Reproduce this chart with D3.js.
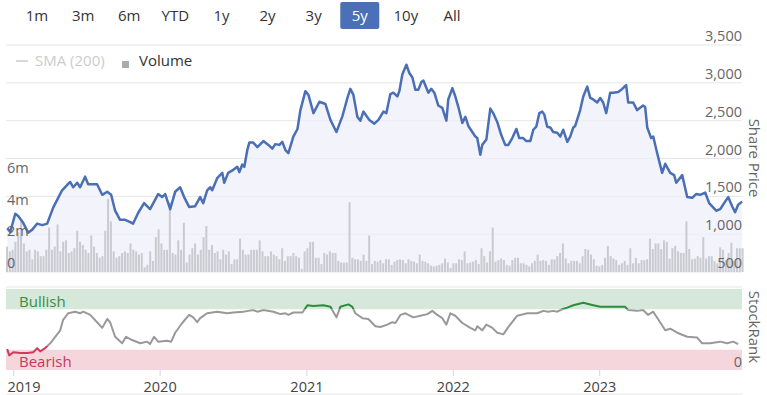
<!DOCTYPE html>
<html>
<head>
<meta charset="utf-8">
<script src="https://cdn.jsdelivr.net/npm/d3@7"></script>
<style>
    body { margin: 0; background: #fff; }
    svg text { font-family: "Open Sans", sans-serif; }
</style>
</head>
<body>
<svg id="svg"></svg>
<script>
const width = 767;
const height = 395;

// range selector buttons along the top
const rangeButtons = ["1m", "3m", "6m", "YTD", "1y", "2y", "3y", "5y", "10y", "All"];
const activeRange = "5y";

// share price, [decimal year, price]
const sharePrice = [
    [2018.959,1080],[2018.980,1030],[2019.014,1270],[2019.034,1240],[2019.068,1150],[2019.102,1020],[2019.130,1060],[2019.164,1140],
    [2019.198,1120],[2019.232,1140],[2019.273,1350],[2019.307,1480],[2019.334,1580],[2019.369,1650],[2019.389,1690],[2019.410,1620],
    [2019.437,1680],[2019.457,1620],[2019.491,1760],[2019.512,1660],[2019.573,1660],[2019.608,1520],[2019.642,1560],[2019.669,1520],
    [2019.696,1310],[2019.730,1190],[2019.765,1190],[2019.799,1160],[2019.819,1140],[2019.853,1280],[2019.894,1410],[2019.935,1330],
    [2019.990,1530],[2020.017,1490],[2020.038,1530],[2020.072,1330],[2020.106,1560],[2020.140,1620],[2020.167,1490],[2020.201,1360],
    [2020.242,1370],[2020.276,1490],[2020.297,1410],[2020.324,1580],[2020.345,1620],[2020.358,1580],[2020.392,1740],[2020.427,1810],
    [2020.440,1680],[2020.467,1810],[2020.502,1850],[2020.529,1890],[2020.543,1820],[2020.563,1920],[2020.577,1890],[2020.597,2110],
    [2020.611,2210],[2020.638,2210],[2020.666,2150],[2020.707,2230],[2020.741,2180],[2020.768,2130],[2020.788,2190],[2020.816,2180],
    [2020.836,2220],[2020.857,2110],[2020.877,2070],[2020.911,2290],[2020.939,2390],[2020.959,2640],[2020.993,2890],[2021.014,2840],
    [2021.048,2600],[2021.089,2750],[2021.130,2720],[2021.164,2510],[2021.205,2350],[2021.246,2560],[2021.280,2800],[2021.300,2920],
    [2021.321,2840],[2021.348,2550],[2021.369,2500],[2021.389,2620],[2021.430,2510],[2021.464,2460],[2021.492,2510],[2021.526,2620],
    [2021.546,2600],[2021.573,2850],[2021.594,2870],[2021.621,2820],[2021.635,2890],[2021.655,3110],[2021.683,3240],[2021.703,3130],
    [2021.724,3070],[2021.744,2910],[2021.765,2910],[2021.785,3010],[2021.799,3030],[2021.833,2870],[2021.853,2920],[2021.874,2870],
    [2021.901,2700],[2021.928,2670],[2021.956,2500],[2021.969,2780],[2021.997,2930],[2022.017,2820],[2022.038,2680],[2022.065,2470],
    [2022.086,2550],[2022.106,2430],[2022.133,2350],[2022.154,2290],[2022.167,2270],[2022.188,2050],[2022.201,2180],[2022.229,2250],
    [2022.256,2660],[2022.276,2600],[2022.304,2480],[2022.331,2310],[2022.358,2180],[2022.379,2180],[2022.406,2270],[2022.434,2390],
    [2022.454,2270],[2022.481,2270],[2022.502,2230],[2022.529,2230],[2022.550,2380],[2022.570,2420],[2022.591,2600],[2022.611,2620],
    [2022.625,2580],[2022.645,2420],[2022.666,2410],[2022.686,2350],[2022.713,2340],[2022.734,2290],[2022.754,2380],[2022.782,2220],
    [2022.802,2290],[2022.823,2410],[2022.836,2430],[2022.870,2640],[2022.891,2820],[2022.918,2950],[2022.939,2800],[2022.959,2780],
    [2022.986,2740],[2023.007,2800],[2023.027,2740],[2023.048,2600],[2023.075,2870],[2023.096,2870],[2023.130,2880],[2023.157,2920],
    [2023.184,2970],[2023.198,2740],[2023.232,2740],[2023.259,2640],[2023.300,2700],[2023.314,2680],[2023.328,2410],[2023.355,2270],
    [2023.369,2290],[2023.396,2070],[2023.430,1810],[2023.451,1930],[2023.485,1810],[2023.512,1780],[2023.526,1680],[2023.567,1780],
    [2023.601,1490],[2023.635,1480],[2023.662,1530],[2023.689,1520],[2023.724,1550],[2023.751,1410],[2023.799,1310],[2023.826,1330],
    [2023.853,1410],[2023.881,1490],[2023.908,1370],[2023.928,1290],[2023.949,1390],[2023.976,1430]
];

// weekly volume in millions, first week starting 14 Dec 2018
const volumeStart = "2018-12-14";
const weeklyVolume = [
    1.6,1.3,1.4,1.9,2.5,3.2,1.8,1.3,1.4,0.8,1.4,1.3,1.0,1.0,1.4,2.8,1.4,1.6,3.0,1.3,1.9,2.0,1.2,1.3,1.5,2.6,1.9,1.7,1.4,1.2,
    2.3,1.6,1.2,0.9,1.0,2.6,4.6,3.2,1.3,0.9,1.0,
    1.2,1.3,1.2,1.8,1.4,1.3,1.1,1.2,0.3,0.45,1.3,0.7,2.2,2.7,1.8,1.4,1.4,4.4,1.2,1.1,2.0,1.4,3.1,0.6,1.1,1.5,1.8,1.1,1.4,2.2,
    2.9,1.4,1.7,1.2,1.3,0.8,1.4,1.1,1.3,0.5,0.8,0.8,2.1,1.4,1.1,
    1.1,1.4,1.4,1.4,2.0,1.3,1.0,1.0,1.3,1.1,1.0,0.8,1.5,0.7,1.0,1.0,1.2,1.0,0.9,0.2,1.3,1.5,1.9,1.9,0.9,0.9,0.5,1.2,1.1,1.3,
    1.2,1.2,0.7,0.6,0.6,0.6,4.4,0.9,0.8,0.8,0.7,1.1,0.7,2.3,0.5,
    0.7,0.65,0.75,0.55,0.8,0.8,0.45,0.65,0.75,0.8,0.75,0.55,0.8,0.7,0.65,0.55,1.1,0.7,0.65,0.55,0.4,0.35,0.4,0.45,0.55,0.85,
    0.6,0.25,0.55,0.55,0.8,0.75,1.3,0.55,0.6,0.65,0.75,0.5,1.5,1.0,0.6,1.3,2.8,0.65,0.75,0.85,
    0.75,0.45,0.4,0.75,0.9,0.9,0.55,0.55,0.45,0.35,0.55,0.7,1.1,0.7,0.75,0.7,0.45,0.8,0.8,1.0,1.2,1.8,0.85,0.55,0.7,0.7,0.7,
    0.55,1.0,1.45,1.4,1.1,0.8,0.4,0.35,0.45,0.9,1.65,1.0,0.85,0.75,0.45,0.55,0.7,0.45,1.5,
    0.55,0.9,0.55,0.75,0.75,0.8,2.1,1.45,1.8,1.8,1.45,2.0,1.9,0.85,1.5,1.65,1.3,1.2,1.2,3.2,1.45,0.8,0.85,1.0,0.9,2.2,0.85,
    1.0,1.0,0.7,0.55,1.55,1.4,0.75,1.2,1.85,0.7,1.5,1.5,1.5
];

// StockRank score 0-100, [decimal year, rank]
const stockRank = [
    [2018.959,26],[2018.973,18],[2019.000,22],[2019.048,21],[2019.096,21],[2019.137,22],[2019.164,27],[2019.184,23],[2019.218,27],
    [2019.253,33],[2019.287,41],[2019.321,49],[2019.341,62],[2019.375,70],[2019.423,72],[2019.457,70],[2019.478,72],[2019.526,68],
    [2019.573,59],[2019.608,52],[2019.642,63],[2019.662,59],[2019.696,41],[2019.744,33],[2019.771,41],[2019.812,37],[2019.867,33],
    [2019.915,35],[2019.935,32],[2019.962,41],[2019.990,35],[2020.051,36],[2020.079,35],[2020.106,46],[2020.154,58],[2020.201,68],
    [2020.229,65],[2020.256,59],[2020.276,64],[2020.324,70],[2020.392,72],[2020.461,70],[2020.502,71],[2020.570,72],[2020.604,73],
    [2020.638,74],[2020.666,72],[2020.707,74],[2020.775,72],[2020.823,69],[2020.857,70],[2020.877,68],[2020.911,71],[2020.973,71],
    [2021.007,80],[2021.048,79],[2021.116,80],[2021.164,78],[2021.205,65],[2021.232,78],[2021.287,81],[2021.314,78],[2021.334,70],
    [2021.382,64],[2021.423,63],[2021.471,54],[2021.505,53],[2021.553,56],[2021.587,59],[2021.608,58],[2021.642,68],[2021.676,70],
    [2021.730,65],[2021.778,67],[2021.826,69],[2021.860,73],[2021.894,68],[2021.928,64],[2021.956,56],[2021.983,70],[2022.017,67],
    [2022.065,58],[2022.119,52],[2022.154,49],[2022.167,54],[2022.201,49],[2022.229,56],[2022.270,52],[2022.304,46],[2022.345,44],
    [2022.379,53],[2022.440,67],[2022.509,70],[2022.577,70],[2022.618,73],[2022.652,72],[2022.686,73],[2022.713,72],[2022.748,75],
    [2022.782,77],[2022.823,80],[2022.891,83],[2022.959,80],[2023.007,78],[2023.075,78],[2023.177,78],[2023.198,74],[2023.259,73],
    [2023.300,74],[2023.334,68],[2023.369,72],[2023.416,59],[2023.451,49],[2023.485,51],[2023.533,46],[2023.601,41],[2023.669,40],
    [2023.703,33],[2023.758,33],[2023.826,35],[2023.874,33],[2023.915,35],[2023.949,32]
];

const priceTicks = [500, 1000, 1500, 2000, 2500, 3000, 3500];
const volumeTicks = [0, 2, 4, 6];
const bullishFrom = 75;
const bearishTo = 30;

let svg = d3.select("#svg");

// turn 2021.5 into a date half way through 2021
function yearToDate(y) {
    const yr = Math.floor(y);
    const start = Date.UTC(yr, 0, 1);
    const end = Date.UTC(yr + 1, 0, 1);
    return new Date(start + (y - yr) * (end - start));
}

let xScale, priceScale, volumeScale, rankScale;

function initialiseSVG() {
    svg.attr("width", width).attr("height", height);
    svg.selectAll("*").remove();

    xScale = d3.scaleUtc()
        .domain([new Date(Date.UTC(2018, 11, 14)), new Date(Date.UTC(2023, 11, 23))])
        .range([6, 742]);
    priceScale = d3.scaleLinear().domain([500, 3500]).range([272, 45]);
    volumeScale = d3.scaleLinear().domain([0, 6]).range([272, 176.9]);
    rankScale = d3.scaleLinear().domain([0, 100]).range([370, 289]);
}

function drawButtons() {
    const bx = d3.scalePoint().domain(rangeButtons).range([37, 452]);
    const g = svg.append("g");
    g.append("rect")
        .attr("x", bx(activeRange) - 19.5)
        .attr("y", 2)
        .attr("width", 39)
        .attr("height", 27)
        .attr("rx", 2)
        .attr("fill", "#4c70b7");
    g.selectAll(".btn")
        .data(rangeButtons)
        .enter().append("text")
        .attr("x", d => bx(d))
        .attr("y", 21)
        .attr("text-anchor", "middle")
        .style("font-size", "15px")
        .style("fill", d => d === activeRange ? "#fff" : "#333")
        .text(d => d);
}

function drawPricePane() {
    // gridlines and labels for share price
    const grid = svg.append("g");
    grid.selectAll("line")
        .data(priceTicks)
        .enter().append("line")
        .attr("x1", 6).attr("x2", 742)
        .attr("y1", d => priceScale(d)).attr("y2", d => priceScale(d))
        .attr("stroke", "#e6e6e6");

    const priceData = sharePrice.map(d => ({ date: yearToDate(d[0]), value: d[1] }));

    // area under the line
    svg.append("path")
        .datum(priceData)
        .attr("fill", "#eef0f9")
        .attr("fill-opacity", 0.7)
        .attr("d", d3.area()
            .x(d => xScale(d.date))
            .y0(priceScale(500))
            .y1(d => priceScale(d.value)));

    // volume bars
    const start = new Date(volumeStart + "T00:00:00Z");
    const volumeData = weeklyVolume.map((v, i) => ({ date: new Date(+start + i * 7 * 864e5), value: v }));
    svg.append("g").selectAll(".bar")
        .data(volumeData)
        .enter().append("rect")
        .attr("class", "bar")
        .attr("x", d => xScale(d.date))
        .attr("width", 2)
        .attr("y", d => volumeScale(d.value))
        .attr("height", d => volumeScale(0) - volumeScale(d.value))
        .attr("fill", "#c9cbd1");

    svg.append("path")
        .datum(priceData)
        .attr("fill", "none")
        .attr("stroke", "#4a6fb5")
        .attr("stroke-width", 2.5)
        .attr("stroke-linejoin", "round")
        .attr("d", d3.line().x(d => xScale(d.date)).y(d => priceScale(d.value)));

    // right hand price labels
    svg.append("g").selectAll("text")
        .data(priceTicks)
        .enter().append("text")
        .attr("x", 742)
        .attr("y", d => priceScale(d) - 4)
        .attr("text-anchor", "end")
        .style("font-size", "14.5px")
        .style("fill", "#666")
        .text(d => d3.format(",")(d));

    // left hand volume labels
    svg.append("g").selectAll("text")
        .data(volumeTicks)
        .enter().append("text")
        .attr("x", 7)
        .attr("y", d => volumeScale(d) - 4)
        .style("font-size", "14.5px")
        .style("fill", "#666")
        .text(d => d === 0 ? "0" : d + "m");

    svg.append("text")
        .attr("transform", "translate(749,158) rotate(90)")
        .attr("text-anchor", "middle")
        .style("font-size", "15px")
        .style("fill", "#666")
        .text("Share Price");
}

function drawLegend() {
    const g = svg.append("g");
    g.append("line")
        .attr("x1", 16).attr("x2", 28).attr("y1", 61).attr("y2", 61)
        .attr("stroke", "#ccc").attr("stroke-width", 1.5);
    g.append("text")
        .attr("x", 35).attr("y", 66)
        .style("font-size", "15px").style("fill", "#ccc")
        .text("SMA (200)");
    g.append("rect")
        .attr("x", 122).attr("y", 61).attr("width", 7).attr("height", 7)
        .attr("fill", "#aaa");
    g.append("text")
        .attr("x", 139).attr("y", 66)
        .style("font-size", "15px").style("fill", "#333")
        .text("Volume");
}

function drawRankPane() {
    svg.append("line")
        .attr("x1", 6).attr("x2", 742).attr("y1", 287).attr("y2", 287)
        .attr("stroke", "#e6e6e6");

    svg.append("rect")
        .attr("x", 6).attr("width", 736)
        .attr("y", rankScale(100)).attr("height", rankScale(bullishFrom) - rankScale(100))
        .attr("fill", "#d5e8da");
    svg.append("rect")
        .attr("x", 6).attr("width", 736)
        .attr("y", rankScale(25)).attr("height", rankScale(0) - rankScale(25))
        .attr("fill", "#f5d6dd");

    svg.append("text").attr("x", 19).attr("y", 307)
        .style("font-size", "15px").style("fill", "#3d8b45").text("Bullish");
    svg.append("text").attr("x", 19).attr("y", 367)
        .style("font-size", "15px").style("fill", "#c8385b").text("Bearish");

    const rankData = stockRank.map(d => ({ date: yearToDate(d[0]), value: d[1] }));
    const line = d3.line().x(d => xScale(d.date)).y(d => rankScale(d.value));

    // colour the line by zone, using clip rectangles
    const zones = [
        { id: "zone-bull", top: rankScale(100) - 10, bottom: rankScale(bullishFrom), colour: "#2e8b3d" },
        { id: "zone-mid", top: rankScale(bullishFrom), bottom: rankScale(bearishTo), colour: "#999" },
        { id: "zone-bear", top: rankScale(bearishTo), bottom: rankScale(0) + 10, colour: "#d1395e" }
    ];
    const defs = svg.append("defs");
    zones.forEach(z => {
        defs.append("clipPath").attr("id", z.id)
            .append("rect")
            .attr("x", 0).attr("width", width)
            .attr("y", z.top).attr("height", z.bottom - z.top);
        svg.append("path")
            .datum(rankData)
            .attr("clip-path", "url(#" + z.id + ")")
            .attr("fill", "none")
            .attr("stroke", z.colour)
            .attr("stroke-width", 2)
            .attr("stroke-linejoin", "round")
            .attr("d", line);
    });

    svg.append("text")
        .attr("x", 742).attr("y", 367)
        .attr("text-anchor", "end")
        .style("font-size", "14.5px").style("fill", "#666")
        .text("0");

    svg.append("text")
        .attr("transform", "translate(749,327) rotate(90)")
        .attr("text-anchor", "middle")
        .style("font-size", "15px")
        .style("fill", "#666")
        .text("StockRank");
}

function drawXAxis() {
    const axis = svg.append("g")
        .attr("transform", "translate(0,370)")
        .call(d3.axisBottom(xScale)
            .ticks(d3.utcYear.every(1))
            .tickFormat(d3.utcFormat("%Y"))
            .tickSize(6)
            .tickPadding(6));
    axis.select(".domain").remove();
    axis.selectAll(".tick line").attr("stroke", "#ccd6eb");
    axis.selectAll(".tick text")
        .style("font-size", "14.5px")
        .style("fill", "#444")
        .attr("font-family", null);
    // keep the first label inside the plot like the original
    axis.selectAll(".tick text").filter((d, i) => i === 0)
        .attr("text-anchor", "start")
        .attr("x", 7 - xScale(xScale.ticks(d3.utcYear.every(1))[0]));

    svg.append("line")
        .attr("x1", 6).attr("x2", 742).attr("y1", 394).attr("y2", 394)
        .attr("stroke", "#e6e6e6");
}

function initialise() {
    initialiseSVG();
    drawButtons();
    drawPricePane();
    drawLegend();
    drawRankPane();
    drawXAxis();
}

initialise();
</script>
</body>
</html>
